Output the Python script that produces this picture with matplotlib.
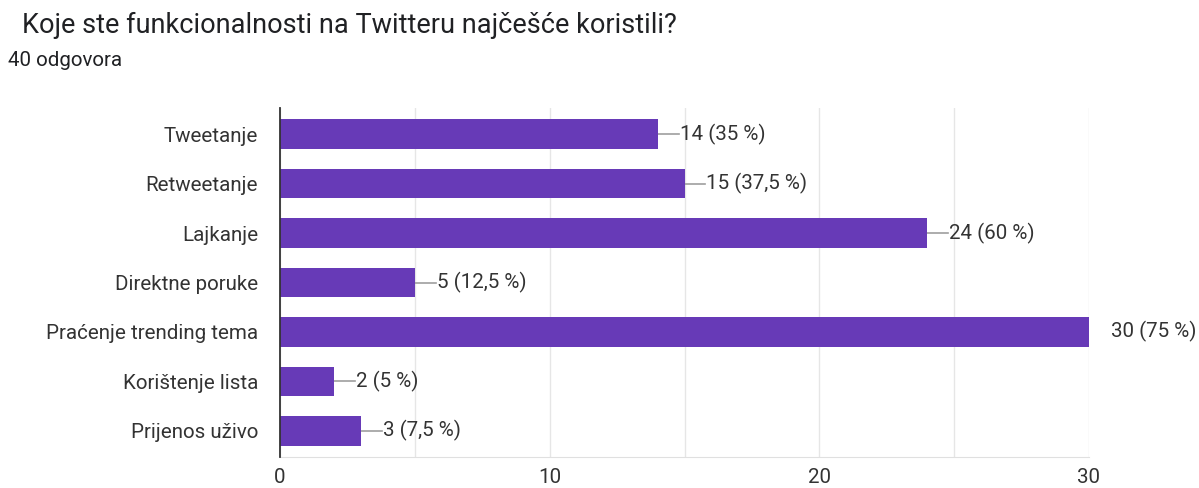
import matplotlib.pyplot as plt
from matplotlib.transforms import offset_copy

plt.rcParams['font.family'] = ['Roboto', 'DejaVu Sans']

categories = ['Tweetanje', 'Retweetanje', 'Lajkanje', 'Direktne poruke',
              'Praćenje trending tema', 'Korištenje lista', 'Prijenos uživo']
counts = [14, 15, 24, 5, 30, 2, 3]
labels = ['14 (35 %)', '15 (37,5 %)', '24 (60 %)', '5 (12,5 %)',
          '30 (75 %)', '2 (5 %)', '3 (7,5 %)']
xticks = [0, 10, 20, 30]

bar_color = '#673ab7'
text_color = '#333333'

fig = plt.figure(figsize=(11.99, 4.88), dpi=100)
ax = fig.add_axes([280 / 1199, 1 - 457 / 488, (1089 - 280) / 1199, (457 - 108) / 488])

ypos = list(range(len(categories)))
ax.barh(ypos, counts, height=0.6, color=bar_color, zorder=3)
ax.set_ylim(len(categories) - 0.47, -0.53)
ax.set_xlim(0, 30)

# connector + value labels
for y, c, lab in zip(ypos, counts, labels):
    trans = offset_copy(ax.transData, fig=fig, x=22 * 0.72, y=0, units='points')
    ax.plot([c, c + 21 / 26.97], [y, y], color='#9e9e9e', lw=1.2, zorder=2)
    ax.text(c, y, lab, transform=trans, va='center', ha='left',
            fontsize=14.8, color=text_color, clip_on=False)

ax.set_xticks(xticks)
ax.set_xticks([5, 15, 25], minor=True)
ax.set_yticks(ypos)
ax.set_yticklabels(categories)
ax.tick_params(axis='both', length=0, labelsize=14.8, labelcolor=text_color)
ax.tick_params(axis='y', pad=22 * 0.72)
ax.tick_params(axis='x', pad=8)
ax.tick_params(axis='x', which='minor', length=0)
ax.grid(axis='x', which='both', color='#e6e6e6', lw=1, zorder=0)

for s in ['top', 'right']:
    ax.spines[s].set_visible(False)
ax.spines['bottom'].set_color('#e0e0e0')
ax.spines['left'].set_color('#333333')
ax.spines['left'].set_linewidth(1.3)
ax.spines['left'].set_zorder(4)

fig.text(22 / 1199, 1 - 25 / 488, 'Koje ste funkcionalnosti na Twitteru najčešće koristili?',
         fontsize=19.5, color='#202124', va='center', ha='left')
fig.text(8 / 1199, 1 - 60 / 488, '40 odgovora', fontsize=14.8, color='#202124',
         va='center', ha='left')

fig.savefig('out.png', dpi=100)
